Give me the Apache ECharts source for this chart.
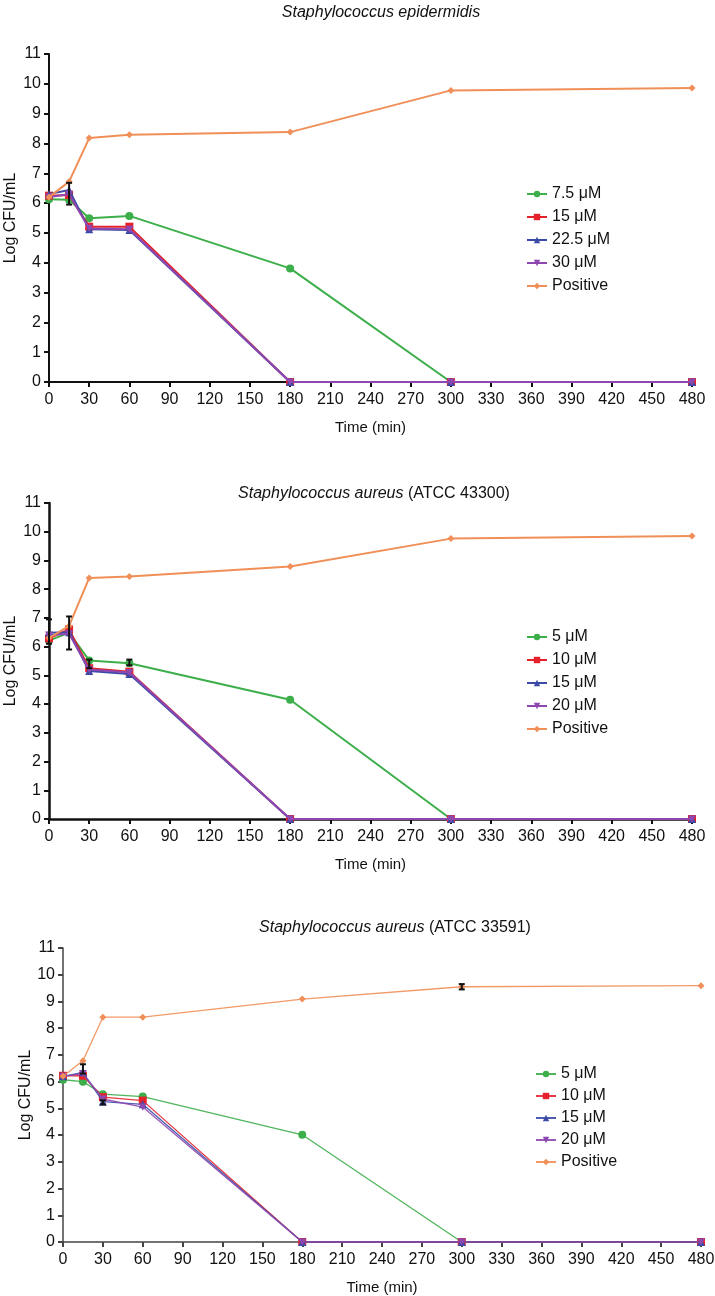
<!DOCTYPE html>
<html><head><meta charset="utf-8">
<script src="https://cdn.jsdelivr.net/npm/echarts@6/dist/echarts.min.js"></script>
<style>html,body{margin:0;padding:0;background:#fff;}
.c{position:absolute;left:0;top:0;width:715px;height:1296px;}</style>
</head><body>
<div id="c1" class="c"></div><div id="c2" class="c"></div><div id="c3" class="c"></div>
<script>
// ---- data ----
const times = [0, 15, 30, 60, 180, 300, 480];
const xTicks = [0,30,60,90,120,150,180,210,240,270,300,330,360,390,420,450,480];

// Panel 1: S. epidermidis
const p1Title = 'Staphylococcus epidermidis';
const p1Names = ['7.5 μM', '15 μM', '22.5 μM', '30 μM', 'Positive'];
const p1Low   = [6.13, 6.11, 5.49, 5.57, 3.81, 0, 0];
const p1Mid1  = [6.25, 6.27, 5.21, 5.21, 0, 0, 0];
const p1Mid2  = [6.30, 6.44, 5.12, 5.10, 0, 0, 0];
const p1High  = [6.20, 6.30, 5.15, 5.12, 0, 0, 0];
const p1Pos   = [6.20, 6.72, 8.18, 8.29, 8.38, 9.78, 9.86];
const p1Err   = [[15, 5.95, 6.68]];

// Panel 2: S. aureus ATCC 43300
const p2Title = 'Staphylococcus aureus';
const p2Sub = ' (ATCC 43300)';
const p2Names = ['5 μM', '10 μM', '15 μM', '20 μM', 'Positive'];
const p2Low   = [6.21, 6.49, 5.52, 5.42, 4.15, 0, 0];
const p2Mid1  = [6.29, 6.60, 5.25, 5.13, 0, 0, 0];
const p2Mid2  = [6.48, 6.50, 5.15, 5.05, 0, 0, 0];
const p2High  = [6.40, 6.45, 5.20, 5.10, 0, 0, 0];
const p2Pos   = [6.30, 6.72, 8.39, 8.44, 8.79, 9.76, 9.85];
const p2Err   = [[0, 6.10, 6.95], [15, 5.90, 7.05], [30, 5.25, 5.55], [60, 5.35, 5.55]];

// Panel 3: S. aureus ATCC 33591
const p3Title = 'Staphylococcus aureus';
const p3Sub = ' (ATCC 33591)';
const p3Names = ['5 μM', '10 μM', '15 μM', '20 μM', 'Positive'];
const p3Low   = [6.07, 6.00, 5.53, 5.44, 4.01, 0, 0];
const p3Mid1  = [6.22, 6.22, 5.42, 5.29, 0, 0, 0];
const p3Mid2  = [6.20, 6.35, 5.25, 5.15, 0, 0, 0];
const p3High  = [6.20, 6.30, 5.35, 5.05, 0, 0, 0];
const p3Pos   = [6.20, 6.78, 8.41, 8.41, 9.09, 9.55, 9.59];
const p3Err   = [[15, 6.30, 6.65], [30, 5.15, 5.30], [300, 9.45, 9.65]];

// ---- styles ----
const colors = ['#3cae4a', '#e5222c', '#3a4aa6', '#8d47b0', '#f08f58'];
const symbols = ['circle', 'rect', 'triangle', 'path://M0,0 L10,0 L5,9 Z', 'diamond'];
const symSizes = [8, 8, 8, 8, 8];
const FONT = 'Liberation Sans, Arial, sans-serif';

function zip(vals){ return times.map((t,i)=>[t, vals[i]]); }

function buildOption(cfg){
  const order = [4, 3, 2, 1, 0]; // draw order: positive first, green last
  const vals = cfg.vals;
  const series = order.map(k => ({
    type: 'line', name: cfg.names[k], data: zip(vals[k]),
    symbol: symbols[k], symbolSize: symSizes[k] - (k===4?1:0),
    symbolKeepAspect: true,
    color: colors[k],
    lineStyle: {width: cfg.lw, color: colors[k], opacity: cfg.lineOpacity},
    itemStyle: {color: colors[k]},
    z: 3 + (4 - order.indexOf(k)), animation: false
  }));
  series.unshift({
    type: 'custom', name: 'err', data: cfg.err, z: 10, silent: true, animation:false,
    renderItem: function(params, api){
      const x = api.value(0);
      const lo = api.coord([x, api.value(1)]);
      const hi = api.coord([x, api.value(2)]);
      const cap = 3;
      const st = {stroke:'#111', lineWidth: 2};
      return {type:'group', children:[
        {type:'line', shape:{x1:lo[0],y1:lo[1],x2:hi[0],y2:hi[1]}, style:st},
        {type:'line', shape:{x1:lo[0]-cap,y1:lo[1],x2:lo[0]+cap,y2:lo[1]}, style:st},
        {type:'line', shape:{x1:hi[0]-cap,y1:hi[1],x2:hi[0]+cap,y2:hi[1]}, style:st}
      ]};
    }
  });
  return {
    backgroundColor: cfg.bg,
    animation: false,
    textStyle: {fontFamily: FONT, color:'#111'},
    title: {
      text: cfg.sub ? '{i|' + cfg.title + '}{n|' + cfg.sub + '}' : '{i|' + cfg.title + '}',
      left: cfg.titleX, top: cfg.titleY, textAlign: 'center',
      textStyle: {fontWeight:'normal', rich: {
        i: {fontFamily: FONT, fontStyle:'italic', fontWeight:'normal', fontSize: 16, color:'#111'},
        n: {fontFamily: FONT, fontWeight:'normal', fontSize: 16, color:'#111'}
      }}
    },
    legend: {
      data: cfg.names, orient: 'vertical', left: cfg.legX, top: cfg.legY,
      itemWidth: 20, itemHeight: 8, itemGap: cfg.legGap,
      textStyle: {fontFamily: FONT, fontSize: 16, color:'#111'},
      selectedMode: false
    },
    grid: {left: cfg.grid[0], right: cfg.grid[1], top: cfg.grid[2], bottom: cfg.grid[3],
           containLabel:false, outerBoundsMode: 'none'},
    xAxis: {
      type: 'value', min: xTicks[0], max: xTicks[xTicks.length-1], interval: 30,
      name: 'Time (min)', nameLocation: 'middle', nameGap: 38, nameMoveOverlap: false,
      nameTextStyle: {fontFamily: FONT, fontSize: 15, color:'#111'},
      axisLine: {lineStyle: {color: cfg.axisColor, width: cfg.axisW}},
      axisTick: {show: true, length: 5, lineStyle:{color: cfg.axisColor, width: 2}},
      axisLabel: {fontFamily: FONT, fontSize: 16, color:'#111', margin: 10},
      splitLine: {show:false}
    },
    yAxis: {
      type: 'value', min: 0, max: 11, interval: 1,
      name: 'Log CFU/mL', nameLocation: 'middle', nameGap: cfg.yNameGap, nameRotate: 90,
      nameMoveOverlap: false,
      nameTextStyle: {fontFamily: FONT, fontSize: 16, color:'#111'},
      axisLine: {show:true, lineStyle: {color: cfg.axisColor, width: cfg.axisW}},
      axisTick: {show: true, length: 5, lineStyle:{color: cfg.axisColor, width: 2}},
      axisLabel: {fontFamily: FONT, fontSize: 16, color:'#111', margin: 8},
      splitLine: {show:false}
    },
    series: series
  };
}

const cfgs = [
  {el:'c1', bg:'#fff', title:p1Title, sub:'', titleX:376, titleY:0, names:p1Names,
   vals:[p1Low,p1Mid1,p1Mid2,p1High,p1Pos], err:p1Err, lw:2, lineOpacity:1,
   legX:521, legY:181, legGap:7, grid:[49,23,54,914], axisColor:'#111', axisW:2, yNameGap:30},
  {el:'c2', bg:'transparent', title:p2Title, sub:p2Sub, titleX:369, titleY:481, names:p2Names,
   vals:[p2Low,p2Mid1,p2Mid2,p2High,p2Pos], err:p2Err, lw:2, lineOpacity:1,
   legX:521, legY:624, legGap:7, grid:[49,23,503,477], axisColor:'#111', axisW:2.5, yNameGap:30},
  {el:'c3', bg:'transparent', title:p3Title, sub:p3Sub, titleX:390, titleY:915, names:p3Names,
   vals:[p3Low,p3Mid1,p3Mid2,p3High,p3Pos], err:p3Err, lw:1.3, lineOpacity:0.9,
   legX:530, legY:1061, legGap:6, grid:[63,14,948,54], axisColor:'#444', axisW:1.5, yNameGap:29}
];
cfgs.forEach(c => {
  const ch = echarts.init(document.getElementById(c.el), null, {renderer:'canvas'});
  ch.setOption(buildOption(c));
});
</script>
</body></html>
